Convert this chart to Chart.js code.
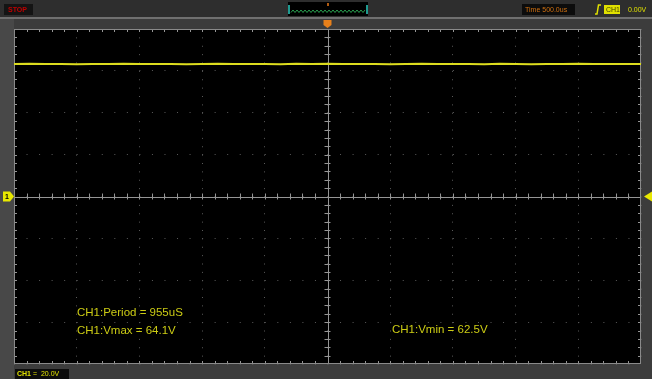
<!DOCTYPE html>
<html>
<head>
<meta charset="utf-8">
<script src="https://cdn.jsdelivr.net/npm/chart.js@4.4.1/dist/chart.umd.min.js"></script>
<style>
  html, body { margin: 0; padding: 0; background: #3c3c3c; }
  canvas { display: block; }
</style>
</head>
<body>
<canvas id="scope" width="652" height="379"></canvas>
<script>
// time base 500us/div, 10 divs ; CH1 20V/div, 8 divs
const timeUs = [-2500, -2375, -2250, -2125, -2000, -1875, -1750, -1625, -1500, -1375,
  -1250, -1125, -1000, -875, -750, -625, -500, -375, -250, -125, 0,
  125, 250, 375, 500, 625, 750, 875, 1000, 1125, 1250, 1375, 1500,
  1625, 1750, 1875, 2000, 2125, 2250, 2375, 2500]
const ch1Volts = [63.3, 63.4, 63.3, 63.3, 63.2, 63.3, 63.3, 63.4, 63.3, 63.3,
  63.3, 63.2, 63.3, 63.4, 63.3, 63.3, 63.3, 63.2, 63.4, 63.3, 63.4,
  63.3, 63.3, 63.3, 63.2, 63.3, 63.4, 63.3, 63.3, 63.3, 63.2, 63.4, 63.3,
  63.2, 63.3, 63.3, 63.4, 63.3, 63.3, 63.3, 63.3]
const measurements = ['CH1:Period = 955uS', 'CH1:Vmax = 64.1V', 'CH1:Vmin = 62.5V']

const xDivs = 10, yDivs = 8, sub = 5
const yellow = '#cccc14'

const scopePlugin = {
  id: 'scope',
  beforeDraw(chart) {
    const ctx = chart.ctx, a = chart.chartArea
    ctx.save()
    ctx.fillStyle = '#3c3c3c'
    ctx.fillRect(0, 0, chart.width, chart.height)
    ctx.fillStyle = '#484848'
    ctx.fillRect(0, 19, a.left, chart.height - 19)
    ctx.fillStyle = '#2e2e2e'
    ctx.fillRect(0, 0, chart.width, 17)
    ctx.fillStyle = '#707070'
    ctx.fillRect(0, 17, chart.width, 2)
    ctx.fillStyle = '#000'
    ctx.fillRect(a.left, a.top, a.right - a.left, a.bottom - a.top)
    ctx.restore()
  },
  beforeDatasetsDraw(chart) {
    const ctx = chart.ctx, a = chart.chartArea
    const x0 = chart.scales.x.getPixelForValue(0)
    const y0 = chart.scales.y.getPixelForValue(0)
    const dx = (a.right - a.left) / (xDivs * sub)
    const dy = (a.bottom - a.top) / (yDivs * sub)
    ctx.save()
    ctx.strokeStyle = '#959595'
    ctx.lineWidth = 1
    ctx.beginPath()
    ctx.moveTo(a.left, Math.round(y0) + 0.5); ctx.lineTo(a.right, Math.round(y0) + 0.5)
    ctx.moveTo(Math.round(x0) + 0.5, a.top); ctx.lineTo(Math.round(x0) + 0.5, a.bottom)
    for (let i = 1; i < xDivs * sub; i++) {
      const x = Math.round(a.left + i * dx) + 0.5
      ctx.moveTo(x, y0 - 3); ctx.lineTo(x, y0 + 3)
      ctx.moveTo(x, a.top); ctx.lineTo(x, a.top + 3)
      ctx.moveTo(x, a.bottom); ctx.lineTo(x, a.bottom - 3)
    }
    for (let j = 1; j < yDivs * sub; j++) {
      const y = Math.round(a.top + j * dy) + 0.5
      ctx.moveTo(x0 - 3, y); ctx.lineTo(x0 + 3, y)
      ctx.moveTo(a.left, y); ctx.lineTo(a.left + 3, y)
      ctx.moveTo(a.right, y); ctx.lineTo(a.right - 3, y)
    }
    ctx.stroke()
    ctx.strokeStyle = '#8a8a8a'
    ctx.strokeRect(a.left + 0.5, a.top + 0.5, a.right - a.left - 1, a.bottom - a.top - 1)
    ctx.restore()
  },
  afterDraw(chart) {
    const ctx = chart.ctx, a = chart.chartArea
    const x0 = chart.scales.x.getPixelForValue(0)
    const y0 = chart.scales.y.getPixelForValue(0)
    ctx.save()
    // measurement readouts
    ctx.font = '11.5px "Liberation Sans", Arial, sans-serif'
    ctx.fillStyle = yellow
    ctx.textBaseline = 'middle'
    ctx.fillText(measurements[0], 77, 313)
    ctx.fillText(measurements[1], 77, 330.5)
    ctx.fillText(measurements[2], 392, 329.5)

    // top status bar
    ctx.font = 'bold 7px "Liberation Sans", Arial, sans-serif'
    ctx.fillStyle = '#141414'
    ctx.fillRect(4, 4, 29, 11)
    ctx.fillStyle = '#c00000'
    ctx.fillText('STOP', 8, 10)

    ctx.fillStyle = '#000'
    ctx.fillRect(288, 2, 80, 14)
    ctx.fillStyle = '#1f9a90'
    ctx.fillRect(288, 5, 2, 9); ctx.fillRect(366, 5, 2, 9)
    ctx.strokeStyle = '#2aa050'
    ctx.lineWidth = 1
    ctx.beginPath()
    for (let x = 291; x <= 365; x += 2) {
      ctx.lineTo(x, (x % 4 === 1) ? 10 : 12.5)
    }
    ctx.stroke()
    ctx.fillStyle = '#b05a10'
    ctx.fillRect(327, 3, 2, 3)

    ctx.fillStyle = '#0c0c0c'
    ctx.fillRect(522, 4, 53, 11)
    ctx.fillStyle = '#d07010'
    ctx.font = '7px "Liberation Sans", Arial, sans-serif'
    ctx.fillText('Time 500.0us', 525, 10)

    ctx.strokeStyle = '#e0e000'
    ctx.lineWidth = 1.5
    ctx.beginPath()
    ctx.moveTo(595, 14); ctx.lineTo(597, 14); ctx.lineTo(598.5, 5); ctx.lineTo(601, 5)
    ctx.stroke()
    ctx.fillStyle = '#e0e000'
    ctx.fillRect(604, 5, 16, 9)
    ctx.fillStyle = '#404000'
    ctx.fillText('CH1', 606, 10)
    ctx.fillStyle = '#e0e000'
    ctx.fillText('0.00V', 628, 10)

    // bottom channel box
    ctx.fillStyle = '#0c0c0c'
    ctx.fillRect(15, 369, 54, 10)
    ctx.fillStyle = '#e0e000'
    ctx.font = 'bold 7px "Liberation Sans", Arial, sans-serif'
    ctx.fillText('CH1', 17, 374)
    ctx.font = '7px "Liberation Sans", Arial, sans-serif'
    ctx.fillText('=  20.0V', 33, 374)

    // channel ground marker (left)
    ctx.fillStyle = '#e8e800'
    ctx.beginPath()
    ctx.moveTo(3, y0 - 5); ctx.lineTo(10, y0 - 5); ctx.lineTo(14, y0)
    ctx.lineTo(10, y0 + 5); ctx.lineTo(3, y0 + 5); ctx.closePath()
    ctx.fill()
    ctx.fillStyle = '#000'
    ctx.font = 'bold 7px "Liberation Sans", Arial, sans-serif'
    ctx.fillText('1', 5, y0 + 0.5)

    // trigger level marker (right)
    ctx.fillStyle = '#e8e800'
    ctx.beginPath()
    ctx.moveTo(a.right + 3, y0); ctx.lineTo(652, y0 - 5); ctx.lineTo(652, y0 + 5)
    ctx.closePath(); ctx.fill()

    // trigger position marker (top)
    ctx.fillStyle = '#e8801a'
    ctx.beginPath()
    ctx.moveTo(x0 - 4, 20); ctx.lineTo(x0 + 4, 20); ctx.lineTo(x0 + 4, 25)
    ctx.lineTo(x0, 28); ctx.lineTo(x0 - 4, 25); ctx.closePath()
    ctx.fill()
    ctx.restore()
  }
}

const cfg = {
  type: 'line',
  data: {
    labels: timeUs,
    datasets: [{
      data: timeUs.map((t, i) => ({ x: t, y: ch1Volts[i] })),
      borderColor: '#dcdc1e',
      borderWidth: 2,
      pointRadius: 0,
      tension: 0
    }]
  },
  options: {
    responsive: false,
    animation: false,
    layout: { padding: { left: 14, right: 11, top: 29, bottom: 15 } },
    plugins: { legend: { display: false }, tooltip: { enabled: false } },
    scales: {
      x: {
        type: 'linear', min: -2500, max: 2500,
        ticks: { display: false, stepSize: 500 },
        grid: { color: '#5a5a5a', lineWidth: 1, drawTicks: false },
        border: { display: false, dash: [1, 7.375] }
      },
      y: {
        min: -80, max: 80,
        ticks: { display: false, stepSize: 20 },
        grid: { color: '#5a5a5a', lineWidth: 1, drawTicks: false },
        border: { display: false, dash: [1, 11.54] }
      }
    }
  },
  plugins: [scopePlugin]
}

const scopeCtx = document.getElementById('scope')
window.myScope = new Chart(scopeCtx, cfg)
</script>
</body>
</html>
